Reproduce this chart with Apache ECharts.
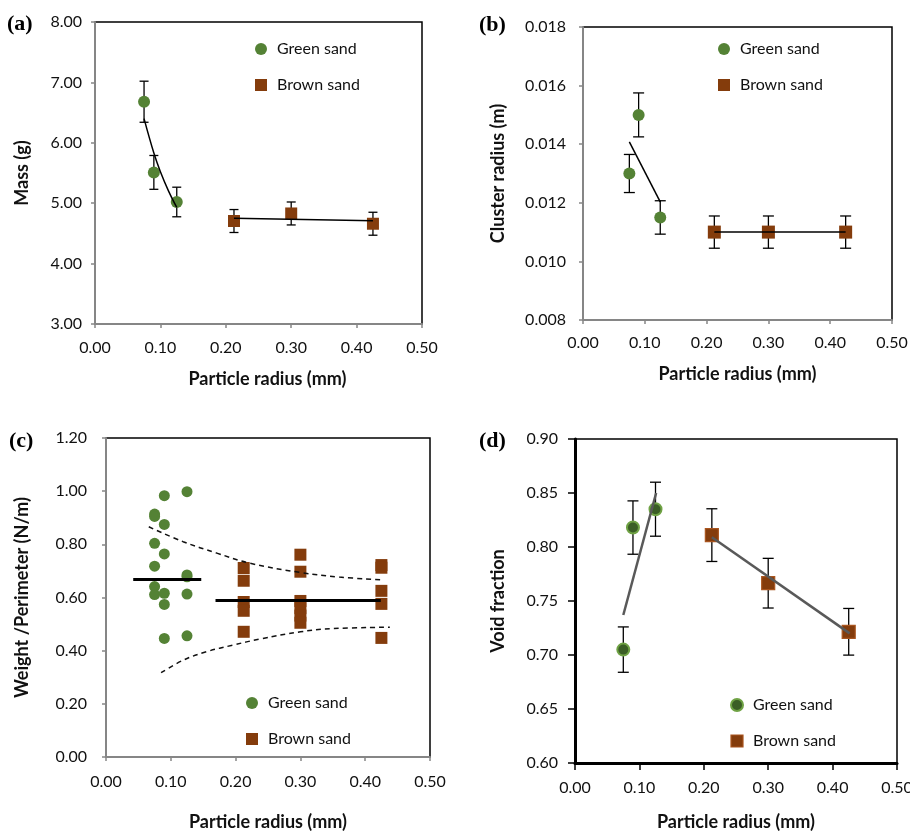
<!DOCTYPE html>
<html>
<head>
<meta charset="utf-8">
<script src="https://cdn.jsdelivr.net/npm/echarts@6.0.0/dist/echarts.min.js"></script>
<style>
  html, body { margin: 0; padding: 0; background: #fff; }
  #chart { width: 910px; height: 832px; }
</style>
</head>
<body>
<div id="chart"></div>
<script>
// particle radius (mm)
const radiusGreen = [0.075, 0.09, 0.125]
const radiusBrown = [0.2125, 0.30, 0.425]

// (a) mass (g)
const massGreen = [6.68, 5.51, 5.02]
const massGreenErr = [0.34, 0.28, 0.245]
const massBrown = [4.705, 4.83, 4.66]
const massBrownErr = [0.19, 0.19, 0.19]
const massTrendGreen = [[0.075, 6.40], [0.09, 5.83], [0.10, 5.52], [0.1125, 5.20], [0.125, 4.93]]
const massTrendBrown = [[0.2125, 4.75], [0.425, 4.71]]

// (b) cluster radius (m)
const clusterGreen = [0.0130, 0.0150, 0.0115]
const clusterGreenErr = [0.00065, 0.00075, 0.00057]
const clusterBrown = [0.0110, 0.0110, 0.0110]
const clusterBrownErr = [0.00055, 0.00055, 0.00055]
const clusterTrendGreen = [[0.075, 0.01408], [0.125, 0.01203]]
const clusterTrendBrown = [[0.2125, 0.0110], [0.425, 0.0110]]

// (c) weight / perimeter (N/m), individual clusters
const wpGreen = [
  [0.075, 0.914], [0.075, 0.905], [0.075, 0.804], [0.075, 0.718], [0.075, 0.641], [0.075, 0.611],
  [0.09, 0.983], [0.09, 0.875], [0.09, 0.764], [0.09, 0.616], [0.09, 0.574], [0.09, 0.446],
  [0.125, 0.998], [0.125, 0.685], [0.125, 0.678], [0.125, 0.613], [0.125, 0.456]
]
const wpBrown = [
  [0.2125, 0.711], [0.2125, 0.663], [0.2125, 0.583], [0.2125, 0.550], [0.2125, 0.471],
  [0.30, 0.761], [0.30, 0.697], [0.30, 0.587], [0.30, 0.560], [0.30, 0.532], [0.30, 0.505],
  [0.425, 0.722], [0.425, 0.712], [0.425, 0.625], [0.425, 0.576], [0.425, 0.448]
]
const wpMeanGreen = [[0.042, 0.668], [0.147, 0.668]]
const wpMeanBrown = [[0.169, 0.589], [0.424, 0.589]]
const wpUpper = [[0.066, 0.866], [0.119, 0.810], [0.171, 0.767], [0.222, 0.729], [0.30, 0.694], [0.36, 0.677], [0.423, 0.667]]
const wpLower = [[0.085, 0.317], [0.119, 0.364], [0.155, 0.396], [0.196, 0.421], [0.238, 0.444], [0.30, 0.471], [0.35, 0.483], [0.438, 0.488]]

// (d) void fraction
const voidGreen = [0.705, 0.818, 0.835]
const voidGreenErr = [0.021, 0.0247, 0.025]
const voidBrown = [0.811, 0.7665, 0.7215]
const voidBrownErr = [0.0244, 0.023, 0.0216]
const voidTrendGreen = [[0.075, 0.737], [0.126, 0.850]]
const voidTrendBrown = [[0.2125, 0.809], [0.4265, 0.720]]

// axis ranges
const yRanges = [
  { min: 3, max: 8, interval: 1, digits: 2, name: 'Mass (g)' },
  { min: 0.008, max: 0.018, interval: 0.002, digits: 3, name: 'Cluster radius (m)' },
  { min: 0, max: 1.2, interval: 0.2, digits: 2, name: 'Weight /Perimeter (N/m)' },
  { min: 0.6, max: 0.9, interval: 0.05, digits: 2, name: 'Void fraction' }
]
const xTitle = 'Particle radius (mm)'
const panelLabels = ['(a)', '(b)', '(c)', '(d)']

const GREEN = '#548235'
const BROWN = '#843c0c'
const FONT = 'Lato'
const SQUARE = 'path://M0,0L10,0L10,10L0,10Z'

const grids = [
  { left: 95, top: 22, width: 327, height: 302 },
  { left: 583, top: 27, width: 309, height: 293 },
  { left: 106, top: 438, width: 324, height: 319 },
  { left: 575, top: 439, width: 322, height: 324 }
]
const yNameGap = [64, 76, 75, 68]
const xNameGap = [46, 45, 56, 50]
const yLabelMargin = [13, 17, 19, 17]
const xLabelMargin = [16, 15, 17, 17]
const labelPos = [[7, 26], [479, 27], [9, 443], [479, 443]]
const legendPos = [[255, 41], [718, 41], [246, 695], [730, 697]]

function axisStyle (i) {
  const dark = i === 3
  return {
    axisLine: { show: true, onZero: false, lineStyle: { color: dark ? '#000' : '#868686', width: dark ? 3 : 2 } },
    axisTick: { show: true, inside: false, length: dark ? 7 : 4, lineStyle: { color: dark ? '#000' : '#868686', width: 1.5 } },
    splitLine: { show: false }
  }
}

const xAxes = grids.map((g, i) => Object.assign({
  type: 'value',
  gridIndex: i,
  min: 0,
  max: 0.5,
  interval: 0.1,
  name: xTitle,
  nameLocation: 'middle',
  nameGap: xNameGap[i],
  nameMoveOverlap: false,
  nameTextStyle: { fontFamily: FONT, fontWeight: 'bold', fontSize: 18, color: '#111', padding: i === 0 ? [0, 0, 0, 18] : 0 },
  axisLabel: {
    margin: xLabelMargin[i],
    fontFamily: FONT,
    fontSize: 16,
    color: '#111',
    hideOverlap: false,
    formatter: v => v.toFixed(2)
  }
}, axisStyle(i)))

const yAxes = grids.map((g, i) => Object.assign({
  type: 'value',
  gridIndex: i,
  min: yRanges[i].min,
  max: yRanges[i].max,
  interval: yRanges[i].interval,
  name: yRanges[i].name,
  nameLocation: 'middle',
  nameGap: yNameGap[i],
  nameMoveOverlap: false,
  nameTextStyle: { fontFamily: FONT, fontWeight: 'bold', fontSize: 18, color: '#111' },
  axisLabel: {
    margin: yLabelMargin[i],
    fontFamily: FONT,
    fontSize: 16,
    color: '#111',
    formatter: v => v.toFixed(yRanges[i].digits)
  }
}, axisStyle(i)))

function errorBars (i, xs, ys, errs, capW) {
  return {
    type: 'custom',
    xAxisIndex: i,
    yAxisIndex: i,
    z: 2,
    silent: true,
    encode: { x: 0, y: [1, 2] },
    data: xs.map((x, k) => [x, ys[k] - errs[k], ys[k] + errs[k]]),
    renderItem: (params, api) => {
      const lo = api.coord([api.value(0), api.value(1)])
      const hi = api.coord([api.value(0), api.value(2)])
      const h = capW / 2
      const style = { stroke: '#000', lineWidth: 1.3 }
      return {
        type: 'group',
        children: [
          { type: 'line', shape: { x1: lo[0], y1: lo[1], x2: hi[0], y2: hi[1] }, style },
          { type: 'line', shape: { x1: lo[0] - h, y1: lo[1], x2: lo[0] + h, y2: lo[1] }, style },
          { type: 'line', shape: { x1: hi[0] - h, y1: hi[1], x2: hi[0] + h, y2: hi[1] }, style }
        ]
      }
    }
  }
}

function points (i, name, data, symbol, size, itemStyle) {
  return {
    name,
    type: 'scatter',
    xAxisIndex: i,
    yAxisIndex: i,
    symbol,
    symbolSize: size,
    z: 3,
    itemStyle: Object.assign({ opacity: 1 }, itemStyle),
    emphasis: { disabled: true },
    data
  }
}

function trend (i, data, lineStyle, smooth) {
  return {
    type: 'line',
    xAxisIndex: i,
    yAxisIndex: i,
    data,
    smooth: smooth ? 0.4 : false,
    symbol: 'none',
    z: 4,
    silent: true,
    lineStyle
  }
}

const pair = (xs, ys) => xs.map((x, k) => [x, ys[k]])

const greenStyle = { color: GREEN }
const brownStyle = { color: BROWN }
const greenDark = { color: '#3b5e26', borderColor: '#6fa244', borderWidth: 2 }
const brownDark = { color: BROWN, borderColor: '#a9551f', borderWidth: 1.2 }
const thinBlack = { color: '#000', width: 1.5 }

const series = [
  // (a)
  errorBars(0, radiusGreen, massGreen, massGreenErr, 9),
  errorBars(0, radiusBrown, massBrown, massBrownErr, 9),
  points(0, 'Green sand', pair(radiusGreen, massGreen), 'circle', 12, greenStyle),
  points(0, 'Brown sand', pair(radiusBrown, massBrown), 'rect', 12, brownStyle),
  trend(0, massTrendGreen, thinBlack, true),
  trend(0, massTrendBrown, thinBlack),
  // (b)
  errorBars(1, radiusGreen, clusterGreen, clusterGreenErr, 11),
  errorBars(1, radiusBrown, clusterBrown, clusterBrownErr, 11),
  points(1, 'Green sand', pair(radiusGreen, clusterGreen), 'circle', 12, greenStyle),
  points(1, 'Brown sand', pair(radiusBrown, clusterBrown), 'rect', 13, brownStyle),
  trend(1, clusterTrendGreen, thinBlack),
  trend(1, clusterTrendBrown, thinBlack),
  // (c)
  points(2, 'Green sand', wpGreen, 'circle', 11, greenStyle),
  points(2, 'Brown sand', wpBrown, 'rect', 12, brownStyle),
  trend(2, wpMeanGreen, { color: '#000', width: 3 }),
  trend(2, wpMeanBrown, { color: '#000', width: 3 }),
  trend(2, wpUpper, { color: '#111', width: 1.5, type: [5, 4] }, true),
  trend(2, wpLower, { color: '#111', width: 1.5, type: [5, 4] }, true),
  // (d)
  errorBars(3, radiusGreen, voidGreen, voidGreenErr, 11),
  errorBars(3, radiusBrown, voidBrown, voidBrownErr, 11),
  points(3, 'Green sand', pair(radiusGreen, voidGreen), 'circle', 12, greenDark),
  points(3, 'Brown sand', pair(radiusBrown, voidBrown), 'rect', 13, brownDark),
  trend(3, voidTrendGreen, { color: '#595959', width: 2.5 }),
  trend(3, voidTrendBrown, { color: '#595959', width: 2.5 })
]

const legends = legendPos.map((p, i) => ({
  left: p[0],
  top: p[1],
  orient: 'vertical',
  padding: 0,
  itemWidth: 22,
  itemHeight: 12,
  itemGap: 20,
  selectedMode: false,
  symbolKeepAspect: true,
  textStyle: { fontFamily: FONT, fontSize: 16, color: '#111', lineHeight: 16 },
  data: [
    { name: 'Green sand', icon: 'circle', itemStyle: Object.assign({ opacity: 1 }, i === 3 ? greenDark : greenStyle) },
    { name: 'Brown sand', icon: SQUARE, itemStyle: Object.assign({ opacity: 1 }, i === 3 ? brownDark : brownStyle) }
  ]
}))

const chart = echarts.init(document.getElementById('chart'), null, { renderer: 'canvas' })
chart.setOption({
  animation: false,
  backgroundColor: '#fff',
  grid: grids.map(g => Object.assign({
    show: true,
    borderColor: '#000',
    borderWidth: 1.5,
    backgroundColor: 'transparent',
    containLabel: false,
    outerBoundsMode: 'none'
  }, g)),
  xAxis: xAxes,
  yAxis: yAxes,
  legend: legends,
  graphic: panelLabels.map((t, i) => ({
    type: 'text',
    left: labelPos[i][0],
    top: labelPos[i][1] - 13,
    style: { text: t, font: 'bold 22px "Liberation Serif", serif', fill: '#000' }
  })),
  series
})
</script>
</body>
</html>
